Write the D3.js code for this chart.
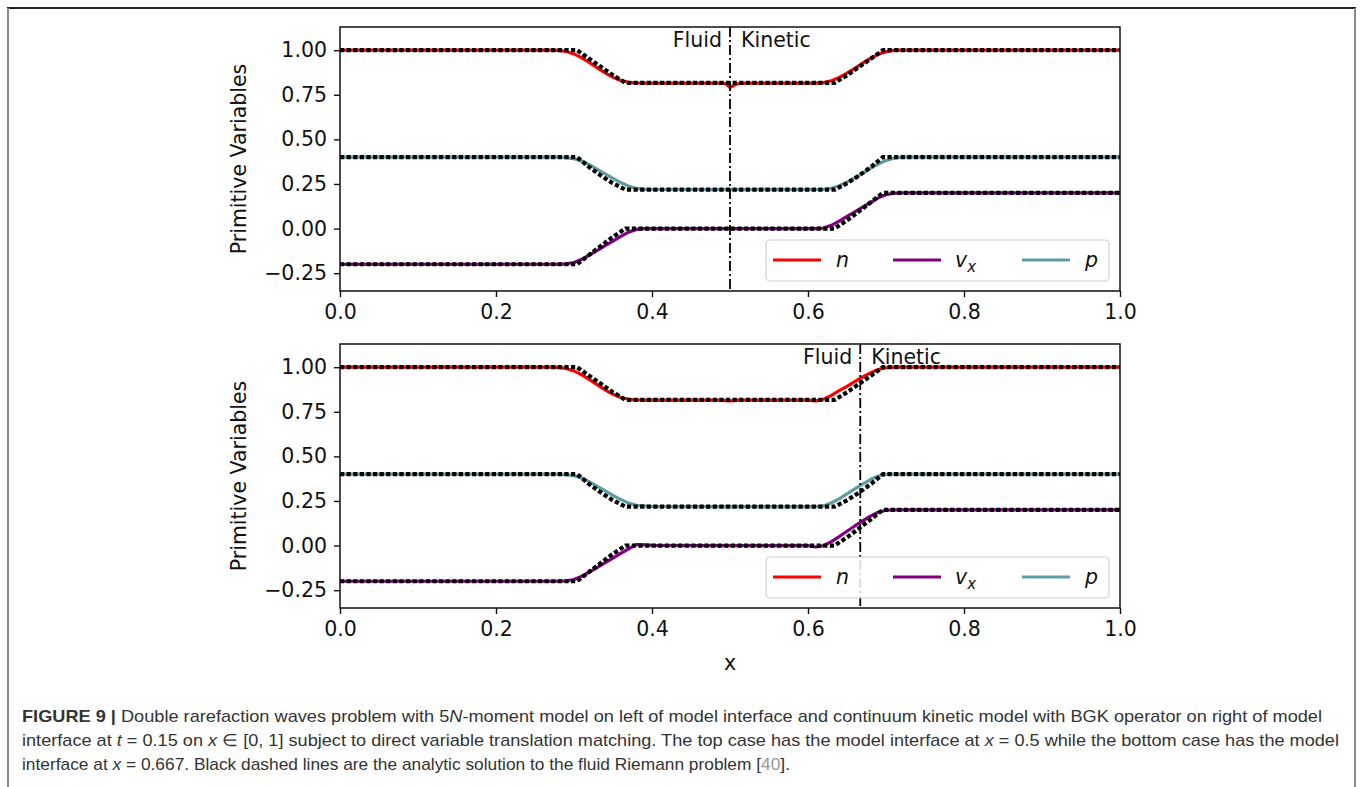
<!DOCTYPE html>
<html>
<head>
<meta charset="utf-8">
<script src="https://cdn.jsdelivr.net/npm/d3@7"></script>
<style>
  html, body { margin: 0; padding: 0; background: #fff; }
  svg { display: block; }
  .tick text { font-family: "DejaVu Sans", sans-serif; font-size: 20.5px; fill: #111; }
  .ax .domain { display: none; }
  .ax .tick line { stroke: #111; stroke-width: 1.4; }
</style>
</head>
<body>
<svg id="fig" width="1362" height="787"></svg>
<script>
// Numerical solution sample positions
const xNum = [0, 0.27, 0.28, 0.29, 0.30, 0.31, 0.32, 0.33, 0.34, 0.35, 0.36, 0.37, 0.38, 0.39, 0.40,
              0.48, 0.49, 0.495, 0.50, 0.505, 0.51, 0.52, 0.60, 0.61, 0.62, 0.63, 0.64, 0.65, 0.66,
              0.67, 0.68, 0.69, 0.70, 0.71, 0.72, 0.73, 1.0];

// Top case: interface at x = 0.5
const topN  = [1, 1, 0.999, 0.993, 0.979, 0.957, 0.930, 0.901, 0.873, 0.848, 0.830, 0.820, 0.816, 0.815, 0.815,
               0.815, 0.816, 0.811, 0.790, 0.803, 0.812, 0.815, 0.815, 0.815, 0.818, 0.829, 0.847, 0.871, 0.898,
               0.927, 0.954, 0.977, 0.992, 0.999, 1, 1, 1];
const topVx = [-0.2, -0.2, -0.2, -0.198, -0.19, -0.172, -0.148, -0.122, -0.096, -0.07, -0.044, -0.02, -0.005, 0, 0,
               0, 0, 0, 0, 0, 0, 0, 0, 0, 0.003, 0.018, 0.042, 0.068, 0.094,
               0.12, 0.146, 0.172, 0.19, 0.198, 0.2, 0.2, 0.2];
const topP  = [0.4, 0.4, 0.4, 0.398, 0.392, 0.378, 0.357, 0.332, 0.306, 0.281, 0.258, 0.238, 0.225, 0.22, 0.219,
               0.218, 0.218, 0.218, 0.218, 0.218, 0.218, 0.218, 0.218, 0.218, 0.219, 0.226, 0.24, 0.26, 0.284,
               0.31, 0.337, 0.362, 0.382, 0.395, 0.4, 0.4, 0.4];

// Bottom case: interface at x = 0.667
const botN  = [1, 1, 0.999, 0.993, 0.979, 0.957, 0.930, 0.901, 0.873, 0.848, 0.830, 0.820, 0.816, 0.815, 0.815,
               0.815, 0.815, 0.813, 0.811, 0.813, 0.815, 0.815, 0.815, 0.811, 0.820, 0.842, 0.868, 0.893, 0.919,
               0.945, 0.968, 0.987, 0.997, 1, 1, 1, 1];
const botVx = [-0.2, -0.2, -0.2, -0.198, -0.19, -0.172, -0.148, -0.122, -0.096, -0.07, -0.044, -0.018, 0.006, 0.004, 0.001,
               0, 0, 0, 0, 0, 0, 0, 0, -0.008, 0.0, 0.022, 0.05, 0.08, 0.11,
               0.138, 0.165, 0.187, 0.198, 0.2, 0.2, 0.2, 0.2];
const botP  = [0.4, 0.4, 0.4, 0.398, 0.392, 0.378, 0.357, 0.332, 0.306, 0.281, 0.258, 0.238, 0.226, 0.222, 0.219,
               0.218, 0.218, 0.218, 0.218, 0.218, 0.218, 0.218, 0.218, 0.218, 0.222, 0.24, 0.262, 0.29, 0.318,
               0.345, 0.37, 0.39, 0.399, 0.4, 0.4, 0.4, 0.4];

// Analytic fluid Riemann solution (same for both cases)
const xExact  = [0, 0.304, 0.319, 0.334, 0.349, 0.366, 0.634, 0.651, 0.666, 0.681, 0.696, 1.0];
const exactN  = [1, 1, 0.953, 0.908, 0.862, 0.817, 0.817, 0.862, 0.908, 0.953, 1, 1];
const exactVx = [-0.2, -0.2, -0.149, -0.099, -0.049, 0, 0, 0.049, 0.099, 0.149, 0.2, 0.2];
const exactP  = [0.4, 0.4, 0.346, 0.299, 0.256, 0.218, 0.218, 0.256, 0.299, 0.346, 0.4, 0.4];

const interfaces = [0.5, 0.667];
const xTicks = [0, 0.2, 0.4, 0.6, 0.8, 1.0];
const yTicks = [-0.25, 0, 0.25, 0.5, 0.75, 1.0];
const seriesNames = ["n", "vx", "p"];
const seriesColors = { n: "#ff0000", vx: "#800080", p: "#5f9ea0" };

const svg = d3.select("#fig");

// Figure frame
svg.append("line").attr("x1", 7).attr("x2", 1356).attr("y1", 8).attr("y2", 8)
  .attr("stroke", "#222").attr("stroke-width", 2);
svg.append("line").attr("x1", 8).attr("x2", 8).attr("y1", 8).attr("y2", 787)
  .attr("stroke", "#8a8a8a").attr("stroke-width", 2);
svg.append("line").attr("x1", 1355).attr("x2", 1355).attr("y1", 8).attr("y2", 787)
  .attr("stroke", "#8a8a8a").attr("stroke-width", 2);

const left = 340, right = 1120;
const panels = [
  { top: 27,  bottom: 291, n: topN, vx: topVx, p: topP, iface: interfaces[0] },
  { top: 344, bottom: 608, n: botN, vx: botVx, p: botP, iface: interfaces[1] }
];

const x = d3.scaleLinear().domain([0, 1]).range([left, right]);

panels.forEach((pan, i) => {
  const y = d3.scaleLinear().domain([-0.35, 1.13]).range([pan.bottom, pan.top]);
  const g = svg.append("g");
  const clipId = "clip" + i;
  svg.append("clipPath").attr("id", clipId).append("rect")
    .attr("x", left).attr("y", pan.top).attr("width", right - left).attr("height", pan.bottom - pan.top);
  const plot = g.append("g").attr("clip-path", `url(#${clipId})`);

  const line = d3.line().x(d => x(d[0])).y(d => y(d[1]));

  // numerical solutions
  seriesNames.forEach(s => {
    plot.append("path")
      .attr("d", line(xNum.map((xv, k) => [xv, pan[s][k]])))
      .attr("fill", "none").attr("stroke", seriesColors[s]).attr("stroke-width", 3.2)
      .attr("stroke-linejoin", "round");
  });

  // analytic solutions
  [exactN, exactVx, exactP].forEach(arr => {
    plot.append("path")
      .attr("d", line(xExact.map((xv, k) => [xv, arr[k]])))
      .attr("fill", "none").attr("stroke", "#000").attr("stroke-width", 4.2)
      .attr("stroke-dasharray", "4.2,2.4");
  });

  // model interface
  g.append("line")
    .attr("x1", x(pan.iface)).attr("x2", x(pan.iface))
    .attr("y1", pan.top).attr("y2", pan.bottom)
    .attr("stroke", "#000").attr("stroke-width", 1.8)
    .attr("stroke-dasharray", "10,3,2,3");

  const labY = pan.top + 20;
  g.append("text").attr("x", x(pan.iface) - 8).attr("y", labY)
    .attr("text-anchor", "end")
    .style("font-family", "DejaVu Sans, sans-serif").style("font-size", "20.5px").attr("fill", "#111")
    .text("Fluid");
  g.append("text").attr("x", x(pan.iface) + 11).attr("y", labY)
    .style("font-family", "DejaVu Sans, sans-serif").style("font-size", "20.5px").attr("fill", "#111")
    .text("Kinetic");

  // legend
  const lg = g.append("g").attr("transform", `translate(766,${pan.bottom - 51})`);
  lg.append("rect").attr("x", 0).attr("y", 0).attr("width", 343).attr("height", 41)
    .attr("rx", 4).attr("fill", "#fff").attr("fill-opacity", 0.85)
    .attr("stroke", "#d0d0d0").attr("stroke-width", 1.2);
  const entries = [
    { key: "n", lx: 7, tx: 70 },
    { key: "vx", lx: 127, tx: 189 },
    { key: "p", lx: 256, tx: 319 }
  ];
  entries.forEach(e => {
    lg.append("line").attr("x1", e.lx).attr("x2", e.lx + 48).attr("y1", 20).attr("y2", 20)
      .attr("stroke", seriesColors[e.key]).attr("stroke-width", 3.2);
    const t = lg.append("text").attr("x", e.tx).attr("y", 27)
      .style("font-family", "DejaVu Sans, sans-serif").style("font-size", "20.5px")
      .style("font-style", "italic").attr("fill", "#111");
    if (e.key === "vx") {
      t.append("tspan").text("v");
      t.append("tspan").attr("dy", 5).style("font-size", "15px").text("x");
    } else {
      t.text(e.key);
    }
  });

  // spines
  g.append("rect").attr("x", left).attr("y", pan.top)
    .attr("width", right - left).attr("height", pan.bottom - pan.top)
    .attr("fill", "none").attr("stroke", "#111").attr("stroke-width", 1.5);

  // axes
  g.append("g").attr("class", "ax").attr("transform", `translate(0,${pan.bottom})`)
    .call(d3.axisBottom(x).tickValues(xTicks).tickFormat(d3.format(".1f")).tickSize(6).tickPadding(7));
  g.append("g").attr("class", "ax").attr("transform", `translate(${left},0)`)
    .call(d3.axisLeft(y).tickValues(yTicks).tickFormat(d3.format(".2f")).tickSize(6).tickPadding(7));
  g.selectAll(".ax .tick text").text(function () { return this.textContent.replace("-", "\u2212"); });

  g.append("text")
    .attr("transform", `translate(246,${(pan.top + pan.bottom) / 2}) rotate(-90)`)
    .attr("text-anchor", "middle")
    .style("font-family", "DejaVu Sans, sans-serif").style("font-size", "20.5px").attr("fill", "#111")
    .text("Primitive Variables");
});

svg.append("text").attr("x", 730).attr("y", 670).attr("text-anchor", "middle")
  .style("font-family", "DejaVu Sans, sans-serif").style("font-size", "20.5px").attr("fill", "#111")
  .text("x");

// Caption
const capFont = "'Liberation Sans', Arial, sans-serif";
const capLines = [
  { y: 722, width: 1300, parts: [
    { t: "FIGURE 9 | ", b: true }, { t: "Double rarefaction waves problem with 5" }, { t: "N", i: true },
    { t: "-moment model on left of model interface and continuum kinetic model with BGK operator on right of model" } ] },
  { y: 746, width: 1317, parts: [
    { t: "interface at " }, { t: "t", i: true }, { t: " = 0.15 on " }, { t: "x", i: true },
    { t: " \u2208 [0, 1] subject to direct variable translation matching. The top case has the model interface at " },
    { t: "x", i: true }, { t: " = 0.5 while the bottom case has the model" } ] },
  { y: 770, width: 768, parts: [
    { t: "interface at " }, { t: "x", i: true },
    { t: " = 0.667. Black dashed lines are the analytic solution to the fluid Riemann problem [" },
    { t: "40", grey: true }, { t: "]." } ] }
];
capLines.forEach(l => {
  const t = svg.append("text").attr("x", 22).attr("y", l.y)
    .attr("textLength", l.width).attr("lengthAdjust", "spacingAndGlyphs")
    .style("font-family", capFont).style("font-size", "17px").attr("fill", "#333")
    .attr("xml:space", "preserve");
  l.parts.forEach(p => {
    t.append("tspan").text(p.t)
      .style("font-weight", p.b ? "bold" : null)
      .style("font-style", p.i ? "italic" : null)
      .attr("fill", p.grey ? "#999" : null);
  });
});
</script>
</body>
</html>
